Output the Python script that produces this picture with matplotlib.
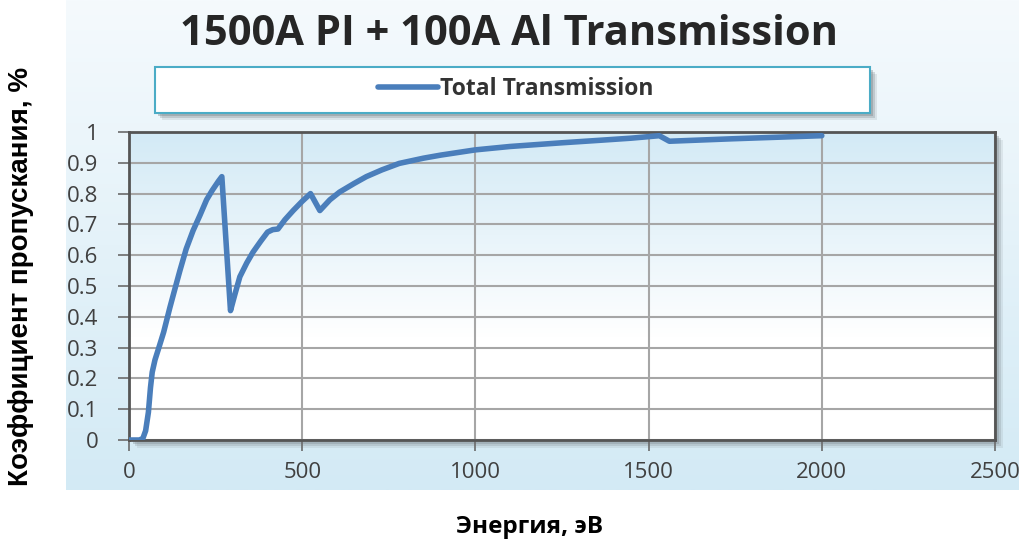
import numpy as np
import matplotlib
matplotlib.use('Agg')
import matplotlib.pyplot as plt
from matplotlib.patches import Rectangle
from matplotlib.colors import LinearSegmentedColormap

plt.rcParams['font.family'] = ['Open Sans', 'DejaVu Sans']

# Data
energy = [0, 30, 40, 48, 56, 62, 67, 75, 89, 100, 118, 130, 147, 165, 185,
          205, 224, 240, 258, 268, 293, 305, 320, 340, 358, 380, 400, 415,
          430, 450, 474, 500, 524, 551, 580, 608, 650, 685, 730, 780, 850,
          900, 1000, 1100, 1250, 1358, 1450, 1531, 1560, 1742, 2000]
transmission = [0.0, 0.0, 0.005, 0.03, 0.09, 0.17, 0.22, 0.26, 0.31, 0.35,
                0.43, 0.48, 0.55, 0.62, 0.68, 0.73, 0.78, 0.81, 0.84, 0.855,
                0.42, 0.47, 0.53, 0.575, 0.61, 0.645, 0.675, 0.683, 0.685,
                0.715, 0.745, 0.775, 0.80, 0.745, 0.78, 0.805, 0.833, 0.855,
                0.877, 0.898, 0.915, 0.925, 0.942, 0.953, 0.965, 0.973, 0.98,
                0.988, 0.97, 0.978, 0.988]
x_ticks = [0, 500, 1000, 1500, 2000, 2500]
y_ticks = [0, 0.1, 0.2, 0.3, 0.4, 0.5, 0.6, 0.7, 0.8, 0.9, 1]
y_ticklabels = ['0', '0.1', '0.2', '0.3', '0.4', '0.5', '0.6', '0.7', '0.8', '0.9', '1']

W, H = 1019, 543
fig = plt.figure(figsize=(W / 100, H / 100), dpi=100)

# Outer chart panel with gradient
bg = fig.add_axes([66 / W, (H - 490) / H, 1 - 66 / W, 490 / H])
bg_cmap = LinearSegmentedColormap.from_list('bg', ['#f5fafd', '#d3eaf5'])
bg.imshow(np.linspace(0, 1, 256).reshape(-1, 1), aspect='auto', cmap=bg_cmap,
          extent=[0, 1, 0, 1], origin='upper')
bg.set_axis_off()

# Plot area
left, right, top, bottom = 129, 995, 132, 440
ax = fig.add_axes([left / W, (H - bottom) / H, (right - left) / W, (bottom - top) / H])
ax.set_zorder(2)

# soft shadow behind plot area
for off, a in [(8, 0.15), (6, 0.25), (4, 0.35)]:
    fig.patches.append(Rectangle(((left + off) / W, (H - bottom - off) / H),
                                 (right - left) / W, (bottom - top) / H,
                                 transform=fig.transFigure, facecolor='#7f8a90',
                                 edgecolor='none', alpha=a, zorder=1))

pa_cmap = LinearSegmentedColormap.from_list('pa', ['#d3eaf6', '#e8f4fa', '#ffffff', '#ffffff'])
ax.imshow(np.linspace(0, 1, 256).reshape(-1, 1), aspect='auto', cmap=pa_cmap,
          extent=[0, 2500, 0, 1], origin='upper', zorder=0)

ax.set_xlim(0, 2500)
ax.set_ylim(0, 1)
ax.set_xticks(x_ticks)
ax.set_yticks(y_ticks)
ax.set_yticklabels(y_ticklabels)
ax.grid(True, color='#a6a6a6', linewidth=1.5, zorder=1)
ax.set_axisbelow(True)
for s in ax.spines.values():
    s.set_color('#555555')
    s.set_linewidth(2)
ax.tick_params(axis='both', colors='#6a6a6a', labelcolor='#404040',
               labelsize=16, length=8, width=1.2)
ax.tick_params(axis='x', pad=8)
ax.tick_params(axis='y', pad=14)

line, = ax.plot(energy, transmission, color='#4a7ebb', linewidth=4,
                solid_capstyle='round', solid_joinstyle='round', zorder=3,
                label='Total Transmission')

# Title
fig.text(509 / W, 1 - 35 / H, '1500A PI + 100A Al Transmission',
         ha='center', va='center', fontsize=30, fontweight='bold', color='#262626')

# Legend box
lx0, lx1, ly0, ly1 = 155, 870, 67, 113
for off, a in [(7, 0.15), (5, 0.25), (3, 0.35)]:
    fig.patches.append(Rectangle(((lx0 + off) / W, (H - ly1 - off) / H), (lx1 - lx0) / W,
                                 (ly1 - ly0) / H, transform=fig.transFigure,
                                 facecolor='#6f787d', edgecolor='none', alpha=a, zorder=1))
fig.patches.append(Rectangle((lx0 / W, (H - ly1) / H), (lx1 - lx0) / W,
                             (ly1 - ly0) / H, transform=fig.transFigure,
                             facecolor='white', edgecolor='#4bacc6', linewidth=1.5, zorder=1))
leg = fig.legend(handles=[line], loc='center', bbox_to_anchor=(516 / W, 1 - 89 / H),
                 frameon=False, prop={'size': 16.5, 'weight': 'bold'},
                 handlelength=2.6, handletextpad=0.1, borderaxespad=0)
for t in leg.get_texts():
    t.set_color('#333333')

# Axis labels
fig.text(21 / W, 1 - 276 / H, 'Коэффициент пропускания, %', rotation=90,
         ha='center', va='center', fontsize=20, fontweight='bold', color='black',
         family=['Liberation Sans', 'DejaVu Sans'])
fig.text(530 / W, 1 - 527 / H, 'Энергия, эВ', ha='center', va='center',
         fontsize=17.5, fontweight='bold', color='black')

fig.savefig('out.png', dpi=100)
